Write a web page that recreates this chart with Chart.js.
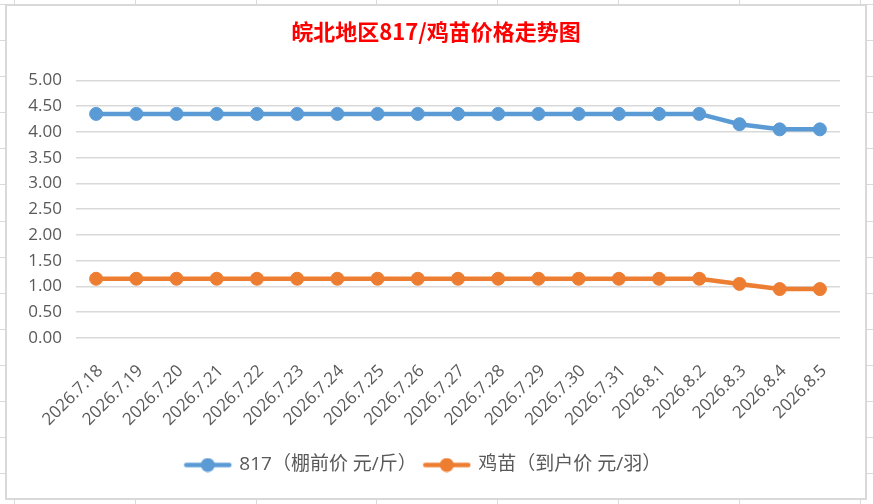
<!DOCTYPE html>
<html><head><meta charset="utf-8">
<script src="https://cdn.jsdelivr.net/npm/chart.js@4.4.0/dist/chart.umd.min.js"></script>
<style>
html,body{margin:0;padding:0;width:873px;height:504px;overflow:hidden;background:#fff;}
#bg{position:absolute;left:0;top:0;width:873px;height:504px;
background-image: repeating-linear-gradient(to bottom, #DADADA 0 1px, transparent 1px 36.1px), repeating-linear-gradient(to right, #DADADA 0 1px, transparent 1px 120.8px);
background-position: 0 4px, 14px 0;}
#frame{position:absolute;left:5px;top:4px;width:858px;height:492px;border:2px solid #D9D9D9;background:#fff;}
canvas{display:block;}
</style></head>
<body>
<div id="bg"></div>
<div id="frame"><canvas id="c" width="858" height="492"></canvas></div>
<script>
const titleText = '皖北地区817/鸡苗价格走势图';
const categories = ['2026.7.18','2026.7.19','2026.7.20','2026.7.21','2026.7.22','2026.7.23','2026.7.24','2026.7.25','2026.7.26','2026.7.27','2026.7.28','2026.7.29','2026.7.30','2026.7.31','2026.8.1','2026.8.2','2026.8.3','2026.8.4','2026.8.5'];
const seriesNames = ['817（棚前价 元/斤）','鸡苗（到户价 元/羽）'];
const values817 = [4.35,4.35,4.35,4.35,4.35,4.35,4.35,4.35,4.35,4.35,4.35,4.35,4.35,4.35,4.35,4.35,4.15,4.05,4.05];
const valuesChick = [1.15,1.15,1.15,1.15,1.15,1.15,1.15,1.15,1.15,1.15,1.15,1.15,1.15,1.15,1.15,1.15,1.05,0.95,0.95];
const yMin = 0, yMax = 5, yStep = 0.5;

const BLUE = '#5B9BD5', ORANGE = '#ED7D31', TXT = '#595959';
const FONT = "'Open Sans', 'Noto Sans CJK SC', sans-serif";

function marker(color){
  const cv = document.createElement('canvas');
  cv.width = 49; cv.height = 15;
  const g = cv.getContext('2d');
  g.strokeStyle = color; g.lineWidth = 4.5; g.lineCap = 'round';
  g.beginPath(); g.moveTo(3,7.5); g.lineTo(46,7.5); g.stroke();
  g.fillStyle = color; g.beginPath(); g.arc(24.5,7.5,7,0,Math.PI*2); g.fill();
  return cv;
}

const PAD_BOTTOM = 13.5;
const PLOT_BOTTOM = 332;

const shiftTitle = {
  id: 'shiftTitle',
  afterLayout(chart){
    if (chart.titleBlock){ chart.titleBlock.left += 12.5; chart.titleBlock.right += 12.5; }
  }
};

new Chart(document.getElementById('c'), {
  type: 'line',
  data: {
    labels: categories,
    datasets: [
      {label: seriesNames[0], data: values817, borderColor: BLUE, backgroundColor: BLUE,
       borderWidth: 4.5, pointRadius: 6.5, pointBorderWidth: 1, pointBackgroundColor: BLUE, pointBorderColor: BLUE,
       tension: 0, pointStyle: 'circle'},
      {label: seriesNames[1], data: valuesChick, borderColor: ORANGE, backgroundColor: ORANGE,
       borderWidth: 4.5, pointRadius: 6.5, pointBorderWidth: 1, pointBackgroundColor: ORANGE, pointBorderColor: ORANGE,
       tension: 0, pointStyle: 'circle'}
    ]
  },
  plugins: [shiftTitle],
  options: {
    responsive: false,
    animation: false,
    devicePixelRatio: 1,
    layout: {padding: {left: 0, right: 25, top: 0, bottom: PAD_BOTTOM}},
    plugins: {
      title: {display: true, text: titleText, color: '#FF0000',
        font: {family: "'Noto Sans CJK SC', sans-serif", size: 22, weight: 'bold'},
        padding: {top: 12, bottom: 36}},
      legend: {display: true, position: 'bottom',
        labels: {color: TXT, font: {family: FONT, size: 19}, padding: 8,
          usePointStyle: true, pointStyleWidth: 44,
          generateLabels: (chart) => chart.data.datasets.map((ds, i) => ({
            text: ds.label, fillStyle: ds.borderColor, strokeStyle: ds.borderColor,
            pointStyle: marker(ds.borderColor), lineWidth: 0, datasetIndex: i, fontColor: TXT, hidden: false
          }))
        }},
      tooltip: {enabled: false}
    },
    scales: {
      x: {
        offset: true,
        grid: {display: false, drawTicks: false},
        border: {display: false},
        ticks: {color: TXT, font: {family: FONT, size: 17}, minRotation: 45, maxRotation: 45, autoSkip: false, padding: 23, labelOffset: 4},
        afterFit: (s) => {
          const lh = s.chart.legend ? s.chart.legend.height : 37;
          s.height = s.chart.height - PAD_BOTTOM - lh - PLOT_BOTTOM;
        }
      },
      y: {
        min: yMin, max: yMax,
        grid: {color: '#D9D9D9', lineWidth: 1.5, drawTicks: false},
        border: {display: false},
        ticks: {stepSize: yStep, color: TXT, font: {family: FONT, size: 17}, padding: 14,
          callback: (v) => Number(v).toFixed(2)},
        afterFit: (s) => { s.width = 69; }
      }
    }
  }
});
</script>
</body></html>
